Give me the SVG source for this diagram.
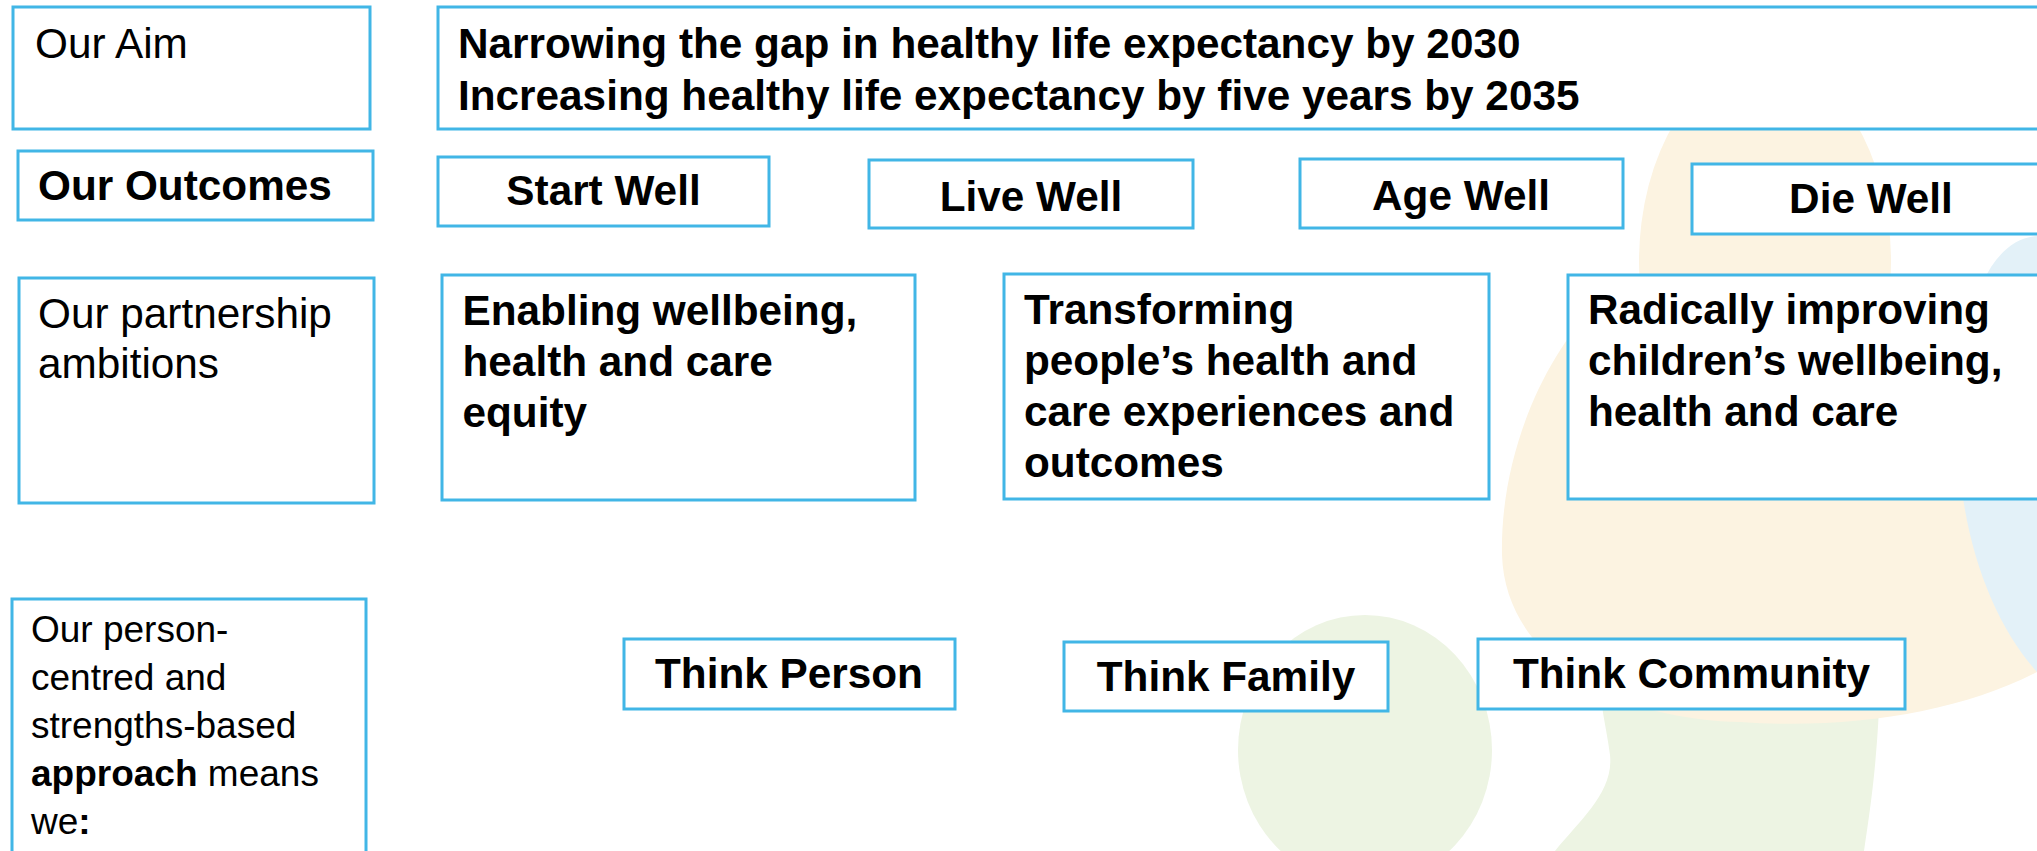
<svg xmlns="http://www.w3.org/2000/svg" width="2037" height="851" viewBox="0 0 2037 851">
  <style>
    .box { fill: #ffffff; stroke: #41b6e6; stroke-width: 3; }
    .t { font-family: "Liberation Sans", Arial, Helvetica, sans-serif; font-size: 42.3px; fill: #000000; }
    .b { font-weight: bold; }
    .s { font-size: 37px; }
    .c { text-anchor: middle; }
  </style>

  <!-- soft background blobs -->
  <g id="background">
    <rect x="0" y="0" width="2037" height="851" fill="#ffffff"/>
    <ellipse cx="1365" cy="750" rx="127" ry="135" fill="#edf4e3"/>
    <path d="M1555,851 C1580,820 1614,792 1610,755 C1606,725 1600,705 1600,680 L1880,680 C1878,760 1870,810 1864,851 Z" fill="#edf4e3"/>
    <ellipse cx="1765" cy="262" rx="126" ry="200" fill="#fcf3e1"/>
    <path d="M1600,300 C1540,360 1500,460 1502,555 C1505,650 1600,718 1740,722 C1850,730 1960,712 2037,672 L2037,300 Z" fill="#fcf3e1"/>
    <path d="M2037,236 C1985,240 1958,320 1958,430 C1958,530 1990,620 2037,672 Z" fill="#e3f1f8"/>
  </g>

  <!-- row 1: aim -->
  <g id="aim-label">
    <rect class="box" x="13" y="7" width="357" height="122"/>
    <text class="t" x="35" y="58">Our Aim</text>
  </g>
  <g id="aim">
    <rect class="box" x="438" y="7" width="1620" height="122"/>
    <text class="t b" x="458" y="58">Narrowing the gap in healthy life expectancy by 2030</text>
    <text class="t b" x="458" y="110">Increasing healthy life expectancy by five years by 2035</text>
  </g>

  <!-- row 2: outcomes -->
  <g id="outcomes-label">
    <rect class="box" x="18" y="151" width="355" height="69"/>
    <text class="t b" x="38" y="200">Our Outcomes</text>
  </g>
  <g id="start-well">
    <rect class="box" x="438" y="157" width="331" height="69"/>
    <text class="t b c" x="603.5" y="205">Start Well</text>
  </g>
  <g id="live-well">
    <rect class="box" x="869" y="160" width="324" height="68"/>
    <text class="t b c" x="1031" y="211">Live Well</text>
  </g>
  <g id="age-well">
    <rect class="box" x="1300" y="159" width="323" height="69"/>
    <text class="t b c" x="1461" y="210">Age Well</text>
  </g>
  <g id="die-well">
    <rect class="box" x="1692" y="164" width="360" height="70"/>
    <text class="t b c" x="1871" y="213">Die Well</text>
  </g>

  <!-- row 3: partnership ambitions -->
  <g id="ambitions-label">
    <rect class="box" x="19" y="278" width="355" height="225"/>
    <text class="t" x="38" y="328">Our partnership</text>
    <text class="t" x="38" y="378">ambitions</text>
  </g>
  <g id="enabling">
    <rect class="box" x="442" y="275" width="473" height="225"/>
    <text class="t b" x="462.5" y="325">Enabling wellbeing,</text>
    <text class="t b" x="462.5" y="376">health and care</text>
    <text class="t b" x="462.5" y="427">equity</text>
  </g>
  <g id="transforming">
    <rect class="box" x="1004" y="274" width="485" height="225"/>
    <text class="t b" x="1024" y="324">Transforming</text>
    <text class="t b" x="1024" y="375">people’s health and</text>
    <text class="t b" x="1024" y="426">care experiences and</text>
    <text class="t b" x="1024" y="477">outcomes</text>
  </g>
  <g id="radically">
    <rect class="box" x="1568" y="275" width="500" height="224"/>
    <text class="t b" x="1588" y="324">Radically improving</text>
    <text class="t b" x="1588" y="375">children’s wellbeing,</text>
    <text class="t b" x="1588" y="426">health and care</text>
  </g>

  <!-- row 4: approach -->
  <g id="approach-label">
    <rect class="box" x="12" y="599" width="354" height="280"/>
    <text class="t s" x="31" y="642">Our person-</text>
    <text class="t s" x="31" y="690">centred and</text>
    <text class="t s" x="31" y="738">strengths-based</text>
    <text class="t s" x="31" y="786"><tspan class="b">approach</tspan> means</text>
    <text class="t s" x="31" y="834">we<tspan class="b">:</tspan></text>
  </g>
  <g id="think-person">
    <rect class="box" x="624" y="639" width="331" height="70"/>
    <text class="t b c" x="789" y="688">Think Person</text>
  </g>
  <g id="think-family">
    <rect class="box" x="1064" y="642" width="324" height="69"/>
    <text class="t b c" x="1226" y="691">Think Family</text>
  </g>
  <g id="think-community">
    <rect class="box" x="1478" y="639" width="427" height="70"/>
    <text class="t b c" x="1691.5" y="688">Think Community</text>
  </g>

  <g id="connectors"/>
</svg>
